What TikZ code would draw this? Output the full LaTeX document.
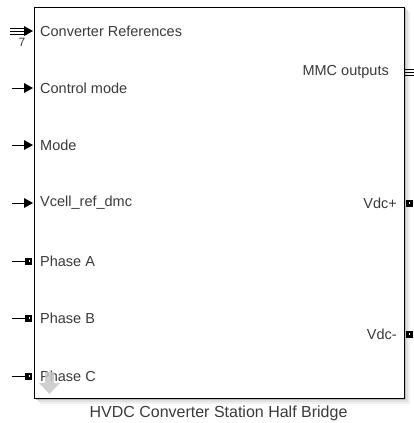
\documentclass[tikz,border=0pt]{standalone}
\usepackage{fontspec}
\setmainfont{Liberation Sans}
\definecolor{txt}{HTML}{3A3A3A}
\definecolor{hint}{HTML}{C8C8C8}
\begin{document}
\begin{tikzpicture}[x=1pt,y=-1pt,
  lbl/.style={font=\fontsize{14.5}{16}\selectfont,text=txt,inner sep=0pt},
  rlbl/.style={lbl,anchor=east},
  llbl/.style={lbl,anchor=west},
  stub/.style={draw=black,line width=1pt},
  tri/.style={fill=black},
  sq/.style={fill=black}]
\useasboundingbox (0,0) rectangle (414,423);
% shadow
\fill[black!6] (39.5,12) rectangle (410,404);
\fill[black!12] (37.5,10) rectangle (408,402);
\fill[black!25] (35.5,8) rectangle (406,400);
% block
\node[draw=black,line width=1.4pt,fill=white,minimum width=370pt,minimum height=391pt,inner sep=0pt,anchor=north west] (blk) at (33.5,6.5) {};
% left labels
\node[llbl] (l1) at (40,31) {Converter References};
\node[llbl] (l2) at (40,88) {Control mode};
\node[llbl] (l3) at (40,145) {Mode};
\node[llbl] (l4) at (40,203) {Vcell\_ref\_dmc};
\node[llbl] (l5) at (40,261) {Phase A};
\node[llbl] (l6) at (40,318) {Phase B};
\node[llbl] (l7) at (40,376) {Phase C};
% hint arrow (drawn over the text, semi-transparent)
\fill[hint,opacity=0.85] (45,372) -- (54,372) -- (54,383) -- (60,383) -- (49.5,394) -- (39,383) -- (45,383) -- cycle;
% right labels
\node[rlbl] (r1) at (389,72) {MMC outputs};
\node[rlbl] (r2) at (397,203) {Vdc+};
\node[rlbl] (r3) at (397,334) {Vdc-};
% title
\node[lbl,font=\fontsize{16}{18}\selectfont] (title) at (218.5,413) {HVDC Converter Station Half Bridge};
% left port coordinates
\coordinate (p1) at (33,31);
\coordinate (p2) at (33,88);
\coordinate (p3) at (33,145);
\coordinate (p4) at (33,203);
\coordinate (p5) at (33,261);
\coordinate (p6) at (33,318);
\coordinate (p7) at (33,376);
\coordinate (s1) at (10,31);
\coordinate (s2) at (12,88);
\coordinate (s3) at (12,145);
\coordinate (s4) at (12,203);
\coordinate (s5) at (12,261);
\coordinate (s6) at (12,318);
\coordinate (s7) at (12,376);
% bus input
\foreach \d in {-3,0,3}{\draw[black,line width=0.9pt] ([yshift=\d]s1) -- ([xshift=-6,yshift=\d]p1);}
\fill[tri] (p1) -- ++(-9,-5) -- ++(0,10) -- cycle;
\node[lbl,font=\fontsize{12}{13}\selectfont] (n7) at (22,42) {7};
% signal inputs
\foreach \i in {2,3,4}{
  \draw[stub] (s\i) -- ([xshift=-8]p\i);
  \fill[tri] (p\i) -- ++(-9,-5) -- ++(0,10) -- cycle;
}
% physical inputs
\foreach \i in {5,6,7}{
  \draw[stub] (s\i) -- ([xshift=-7]p\i);
  \fill[sq] ([xshift=-8,yshift=-3.5]p\i) rectangle ([xshift=-1,yshift=3.5]p\i);
  \fill[white] ([xshift=-4.5,yshift=-0.6]p\i) rectangle ([xshift=-3.3,yshift=0.6]p\i);
}
% right ports
\coordinate (q1) at (405,72);
\coordinate (q2) at (405,203);
\coordinate (q3) at (405,334);
\coordinate (e1) at (414,72);
\foreach \d in {-3,0,3}{\draw[black,line width=0.9pt] ([yshift=\d]q1) -- ([yshift=\d]e1);}
\foreach \i in {2,3}{
  \fill[sq] ([xshift=1,yshift=-3.5]q\i) rectangle ([xshift=8,yshift=3.5]q\i);
  \fill[white] ([xshift=4,yshift=-0.6]q\i) rectangle ([xshift=5.2,yshift=0.6]q\i);
}
\end{tikzpicture}
\end{document}
